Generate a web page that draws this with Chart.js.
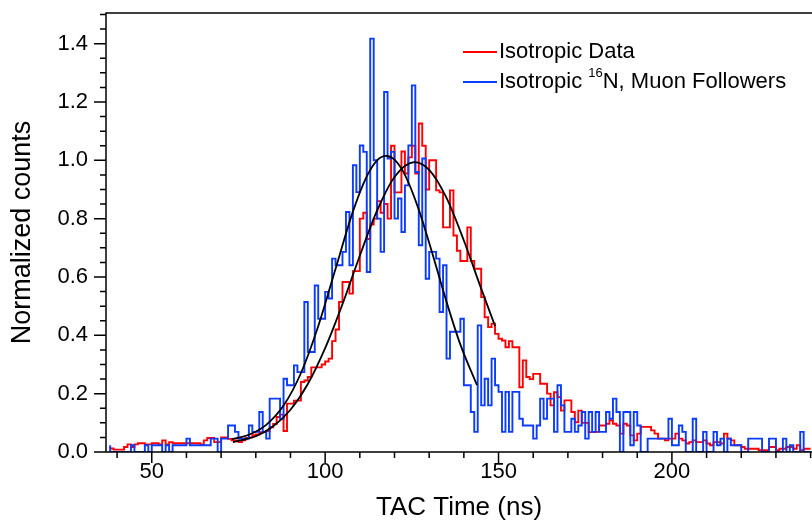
<!DOCTYPE html>
<html lang="en">
<head>
  <meta charset="UTF-8" />
  <title>TAC Time – Isotropic Data vs 16N Muon Followers</title>
  <script src="https://cdn.jsdelivr.net/npm/chart.js"></script>
  <style>
    html, body { margin: 0; padding: 0; background: #fff; }
    #wrap { position: relative; width: 812px; height: 523px; font-family: 'Liberation Sans', Arial, sans-serif; }
    #legend { position: absolute; left: 463px; top: 0; color: #000; }
    .item { position: absolute; left: 0; white-space: nowrap; font-size: 22px; line-height: 22px; }
    .swatch { position: absolute; left: 0; top: 11px; width: 34px; height: 2px; }
    .txt { position: absolute; left: 36px; top: 0; }
    .sup { position: relative; top: -10.5px; font-size: 13px; }
  </style>
</head>
<body>

  <div id="wrap">
    <canvas id="tacChart" width="812" height="523"></canvas>
    <div id="legend">
      <div class="item" style="top:39.5px"><span class="swatch" style="background:#ff0000"></span><span class="txt">Isotropic Data</span></div>
      <div class="item" style="top:69.5px"><span class="swatch" style="background:#0a3cff"></span><span class="txt">Isotropic <span class="sup">16</span>N, Muon Followers</span></div>
    </div>
  </div>

  <script>
    // histograms: 1 ns bins, first bin starts at 38 ns
    const binStart = 38;

    // Isotropic Data (red)
    const isoData = [
      0.017, 0.012, 0.008, 0.008, 0.008, 0.017, 0.026, 0.017, 0.026, 0.030,
      0.030, 0.026, 0.026, 0.030, 0.030, 0.026, 0.040, 0.026, 0.034, 0.030,
      0.030, 0.030, 0.030, 0.030, 0.030, 0.030, 0.030, 0.026, 0.040, 0.048,
      0.048, 0.034, 0.034, 0.050, 0.050, 0.045, 0.040, 0.040, 0.034, 0.040,
      0.048, 0.050, 0.058, 0.060, 0.068, 0.068, 0.072, 0.085, 0.096, 0.120,
      0.128, 0.072, 0.166, 0.166, 0.176, 0.176, 0.240, 0.245, 0.257, 0.290,
      0.290, 0.290, 0.300, 0.310, 0.320, 0.380, 0.420, 0.514, 0.583, 0.583,
      0.543, 0.620, 0.620, 0.800, 0.820, 0.730, 0.780, 0.800, 0.860, 0.820,
      0.850, 0.800, 1.050, 0.890, 0.890, 1.030, 0.955, 1.010, 1.050, 0.955,
      1.126, 1.050, 0.900, 1.000, 1.000, 0.897, 0.890, 0.770, 0.770, 0.897,
      0.742, 0.690, 0.655, 0.655, 0.770, 0.655, 0.628, 0.628, 0.531, 0.462,
      0.428, 0.440, 0.405, 0.388, 0.382, 0.359, 0.380, 0.359, 0.359, 0.222,
      0.314, 0.257, 0.250, 0.268, 0.268, 0.234, 0.234, 0.200, 0.160, 0.205,
      0.188, 0.142, 0.177, 0.177, 0.137, 0.102, 0.142, 0.100, 0.100, 0.068,
      0.068, 0.069, 0.091, 0.091, 0.097, 0.109, 0.097, 0.091, 0.063, 0.097,
      0.091, 0.057, 0.040, 0.063, 0.086, 0.086, 0.086, 0.074, 0.063, 0.046,
      0.046, 0.040, 0.046, 0.046, 0.063, 0.046, 0.040, 0.029, 0.034, 0.040,
      0.034, 0.034, 0.040, 0.029, 0.023, 0.034, 0.034, 0.029, 0.063, 0.046,
      0.040, 0.023, 0.023, 0.017, 0.011, 0.011, 0.011, 0.011, 0.006, 0.006,
      0.006, 0.017, 0.017, 0.006, 0.011, 0.011, 0.017, 0.017, 0.011, 0.023,
      0.006, 0.011
    ];

    // Isotropic 16N, Muon Followers (blue)
    const n16Data = [
      0.023, 0, 0, 0, 0, 0, 0, 0.023, 0, 0,
      0, 0.023, 0, 0.023, 0.023, 0.023, 0, 0.023, 0, 0.023,
      0.023, 0.023, 0.023, 0.046, 0.023, 0.023, 0.023, 0.023, 0.023, 0.023,
      0.046, 0.046, 0, 0.046, 0.046, 0.091, 0.091, 0.069, 0.046, 0.046,
      0.046, 0.091, 0.069, 0.069, 0.137, 0.069, 0.046, 0.183, 0.183, 0.183,
      0.114, 0.251, 0.229, 0.229, 0.297, 0.274, 0.274, 0.514, 0.343, 0.343,
      0.571, 0.457, 0.457, 0.549, 0.526, 0.663, 0.640, 0.640, 0.686, 0.823,
      0.640, 0.983, 0.891, 1.051, 1.029, 0.617, 1.417, 1.000, 0.800, 0.686,
      1.234, 1.006, 1.029, 0.800, 0.869, 0.754, 0.914, 1.051, 1.257, 0.960,
      0.709, 1.006, 0.594, 0.686, 0.686, 0.663, 0.480, 0.640, 0.320, 0.412,
      0.412, 0.412, 0.457, 0.229, 0.229, 0.137, 0.069, 0.434, 0.160, 0.251,
      0.160, 0.320, 0.229, 0.206, 0.069, 0.206, 0.069, 0.206, 0.206, 0.114,
      0.091, 0.091, 0.091, 0.046, 0.091, 0.183, 0.114, 0.183, 0.183, 0.069,
      0.229, 0.160, 0.069, 0.069, 0.114, 0.069, 0.091, 0.137, 0.046, 0.137,
      0.069, 0.137, 0.069, 0.069, 0.137, 0.114, 0.183, 0.137, 0, 0.137,
      0.137, 0.023, 0.137, 0.091, 0, 0, 0.046, 0.046, 0.046, 0.046,
      0.046, 0.046, 0.114, 0.023, 0.023, 0.091, 0.069, 0, 0, 0.114,
      0, 0, 0.069, 0, 0, 0.069, 0.023, 0.046, 0, 0.046,
      0.023, 0.023, 0.023, 0, 0, 0.046, 0.046, 0.046, 0.046, 0,
      0, 0.046, 0.046, 0, 0, 0.046, 0, 0.023, 0, 0,
      0.069, 0
    ];

    // gaussian fits
    const isoFitT = [73.4, 80, 85, 90, 95, 100, 105, 110, 115, 120, 125.8, 130, 135, 140, 145, 149];
    const isoFitY = [0.034, 0.054, 0.088, 0.145, 0.233, 0.356, 0.507, 0.673, 0.828, 0.943, 0.994, 0.967, 0.871, 0.725, 0.560, 0.432];
    const n16FitT = [73.1, 78, 83, 88, 93, 98, 103, 108, 112, 115, 117.6, 120, 123, 127, 131, 135, 139, 143.8];
    const n16FitY = [0.044, 0.059, 0.093, 0.159, 0.270, 0.431, 0.628, 0.824, 0.945, 1.000, 1.015, 1.002, 0.950, 0.831, 0.677, 0.515, 0.368, 0.229];

    // helpers to turn the arrays into {x,y} points
    function histPoints(values) {
      const pts = values.map((v, i) => ({ x: binStart + i, y: v }));
      pts.push({ x: binStart + values.length, y: values[values.length - 1] });
      return pts;
    }
    function curvePoints(xs, ys) {
      return xs.map((x, i) => ({ x: x, y: ys[i] }));
    }

    // frame on top + minor/major tick marks pointing outwards
    const frameTicks = {
      id: 'frameTicks',
      afterDraw(chart) {
        const { ctx, chartArea: a, scales: { x, y } } = chart;
        ctx.save();
        ctx.strokeStyle = '#000';
        ctx.lineWidth = 1.5;
        ctx.beginPath();
        ctx.moveTo(a.right, a.top);
        ctx.lineTo(a.left, a.top);
        ctx.lineTo(a.left, a.bottom);
        ctx.lineTo(a.right, a.bottom);
        for (let t = 40; t <= x.max; t += 10) {
          const px = x.getPixelForValue(t);
          ctx.moveTo(px, a.bottom);
          ctx.lineTo(px, a.bottom + (t % 50 === 0 ? 11 : 6));
        }
        for (let i = 0; i * 0.05 <= y.max + 1e-9; i++) {
          const py = y.getPixelForValue(i * 0.05);
          ctx.moveTo(a.left, py);
          ctx.lineTo(a.left - (i % 4 === 0 ? 12 : 6), py);
        }
        ctx.stroke();
        ctx.restore();
      }
    };

    Chart.defaults.font.family = "'Liberation Sans', Arial, sans-serif";
    Chart.defaults.color = '#000';

    const ctx = document.getElementById('tacChart').getContext('2d');

    const chart = new Chart(ctx, {
      type: 'scatter',
      data: {
        datasets: [
          {
            label: 'Isotropic fit',
            data: curvePoints(isoFitT, isoFitY),
            showLine: true,
            borderColor: '#000',
            borderWidth: 1.8,
            pointRadius: 0,
            cubicInterpolationMode: 'monotone',
            order: 0
          },
          {
            label: 'Muon followers fit',
            data: curvePoints(n16FitT, n16FitY),
            showLine: true,
            borderColor: '#000',
            borderWidth: 1.8,
            pointRadius: 0,
            cubicInterpolationMode: 'monotone',
            order: 0
          },
          {
            label: 'Isotropic 16N, Muon Followers',
            data: histPoints(n16Data),
            showLine: true,
            stepped: 'after',
            borderColor: '#0a3cff',
            borderWidth: 1.9,
            pointRadius: 0,
            order: 1
          },
          {
            label: 'Isotropic Data',
            data: histPoints(isoData),
            showLine: true,
            stepped: 'after',
            borderColor: '#ff0000',
            borderWidth: 1.9,
            pointRadius: 0,
            order: 2
          }
        ]
      },
      options: {
        responsive: false,
        animation: false,
        layout: { padding: { top: 13, right: 0, bottom: 0, left: 0 } },
        scales: {
          x: {
            type: 'linear',
            min: 36.8,
            max: 240.4,
            grid: { display: false, drawTicks: false },
            border: { display: false },
            ticks: {
              stepSize: 10,
              includeBounds: false,
              autoSkip: false,
              maxRotation: 0,
              padding: 7,
              font: { size: 22 },
              callback: v => (Math.abs(v % 50) < 1e-6 ? String(v) : '')
            },
            title: {
              display: true,
              text: 'TAC Time (ns)',
              font: { size: 26 },
              padding: { top: 0, bottom: 0 }
            },
            afterFit: scale => {
              scale.height = 71;
              scale.paddingLeft = 0;
              scale.paddingRight = 0;
            }
          },
          y: {
            min: 0,
            max: 1.505,
            grid: { display: false, drawTicks: false },
            border: { display: false },
            ticks: {
              stepSize: 0.2,
              includeBounds: false,
              padding: 18,
              font: { size: 22 },
              callback: v => v.toFixed(1)
            },
            title: {
              display: true,
              text: 'Normalized counts',
              font: { size: 27 },
              padding: { top: 6, bottom: 0 }
            },
            afterFit: scale => {
              scale.width = 106;
              scale.paddingTop = 0;
              scale.paddingBottom = 0;
            }
          }
        },
        plugins: {
          legend: { display: false },
          tooltip: { enabled: false }
        }
      },
      plugins: [frameTicks]
    });
  </script>

</body>
</html>
